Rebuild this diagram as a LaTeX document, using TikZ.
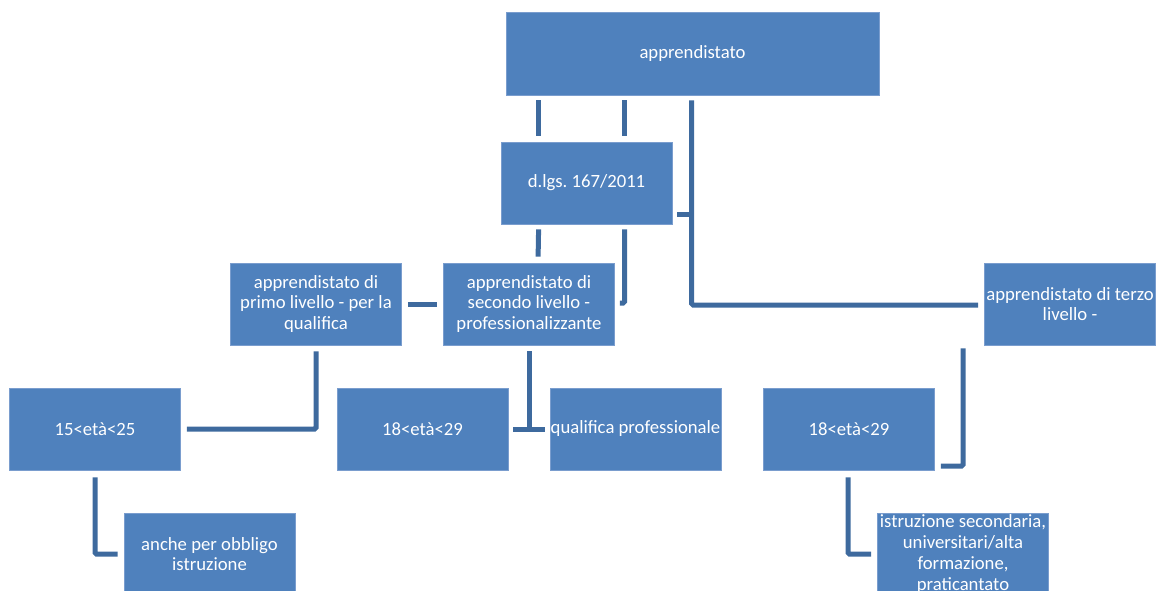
\documentclass[tikz,border=0pt]{standalone}
\usepackage{fontspec}
\setmainfont{Carlito}
\usetikzlibrary{calc}
\definecolor{boxfill}{HTML}{4F81BD}
\definecolor{boxline}{HTML}{7A9DCE}
\definecolor{conn}{HTML}{3E6A9E}
\tikzset{
  box/.style={rectangle, fill=boxfill, draw=boxline, line width=0.8pt, inner sep=0pt,
    minimum width=171pt, minimum height=82pt, align=center, text=white,
    font=\fontsize{18.7pt}{20.8pt}\selectfont\frenchspacing},
  link/.style={draw=conn, line width=5pt, rounded corners=1.5pt}
}
\begin{document}
\begin{tikzpicture}[x=1pt,y=1pt]
\useasboundingbox (0,0) rectangle (1156,590);
\clip (0,0) rectangle (1156,590);
\node[box, minimum width=373pt, minimum height=83pt] (top) at (692.5,536.5) {apprendistato};
\node[box] (dl) at (586.5,407) {d.lgs. 167/2011};
\node[box] (primo) at (316,286) {apprendistato di\\primo livello - per la\\qualifica};
\node[box] (secondo) at (529,286) {apprendistato di\\secondo livello -\\professionalizzante};
\node[box] (terzo) at (1070,286) {apprendistato di terzo\\livello -};
\node[box] (a25) at (95,161) {15<età<25};
\node[box] (b29) at (422.5,161) {18<età<29};
\node[box] (qual) at (635.5,161) {qualifica professionale};
\node[box] (c29) at (849,161) {18<età<29};
\node[box] (anche) at (209.5,36) {anche per obbligo\\istruzione};
\node[box] (istr) at (963,36) {istruzione secondaria,\\universitari/alta\\formazione,\\praticantato};

\draw[link] ($(top.south west)+(33,-5)$) -- ($(dl.north west)+(38,6)$);
\draw[link] ($(top.south west)+(119,-5)$) -- ($(dl.north west)+(124,6)$);
\draw[link] ($(top.south west)+(186,-5)$) |- ($(terzo.west)+(-6,-1)$);
\draw[link] ($(dl.east)+(5,-32)$) -- ++(17,0);
\draw[link] ($(dl.south west)+(38,-5)$) -- ($(secondo.north west)+(95,6)$);
\draw[link] ($(dl.south west)+(124,-5)$) |- ($(secondo.east)+(5,1)$);
\draw[link] ($(primo.east)+(6,0)$) -- ($(secondo.west)+(-6,0)$);
\draw[link] ($(primo.south)+(0,-6)$) |- ($(a25.east)+(6,0)$);
\draw[link] ($(secondo.south)+(0,-6)$) -- (secondo.south |- b29.east);
\draw[link] ($(b29.east)+(5,0)$) -- ($(qual.west)+(-5,0)$);
\draw[link] ($(a25.south)+(0,-7)$) |- ($(anche.west)+(-6,0)$);
\draw[link] ($(terzo.south west)+(-21,-3)$) |- ($(c29.east)+(6,-37)$);
\draw[link] ($(c29.south)+(-1,-7)$) |- ($(istr.west)+(-6,0)$);
\end{tikzpicture}
\end{document}
